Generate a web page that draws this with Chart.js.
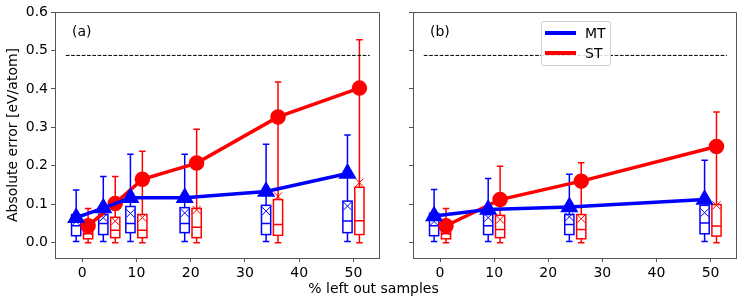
<!DOCTYPE html>
<html><head><meta charset="utf-8">
<script src="https://cdn.jsdelivr.net/npm/chart.js@4.4.0/dist/chart.umd.min.js"></script>
<style>
html,body{margin:0;padding:0;background:#fff;}
#wrap{position:relative;width:747px;height:299px;overflow:hidden;font-family:"DejaVu Sans",sans-serif;}
#ca{position:absolute;left:0;top:0;}
#cb{position:absolute;left:390px;top:0;}
#xt{position:absolute;left:0;width:747px;top:280px;text-align:center;font-size:14px;color:#000;}
#leg{position:absolute;left:541px;top:21px;width:68px;height:43px;border:1px solid #d0d0d0;border-radius:3px;background:rgba(255,255,255,0.85);}
.li{position:absolute;left:3px;width:31px;height:3.5px;}
.lt{position:absolute;left:43px;font-size:14px;line-height:16px;color:#000;}
</style></head>
<body>
<div id="wrap">
<canvas id="ca" width="390" height="299"></canvas>
<canvas id="cb" width="357" height="299"></canvas>
<div id="xt">% left out samples</div>
<div id="leg">
  <div class="li" style="top:9px;background:#0000ff"></div><div class="lt" style="top:3px">MT</div>
  <div class="li" style="top:29px;background:#ff0000"></div><div class="lt" style="top:23px">ST</div>
</div>
</div>
<script>
// ---------- data ----------
const xTicks = [0, 10, 20, 30, 40, 50];
const yTicks = [0, 0.1, 0.2, 0.3, 0.4, 0.5, 0.6];
const refY = 0.487;
const refX = [-3, 53];

// panel (a)
const aMTx = [-1.1, 3.9, 8.9, 18.9, 33.9, 48.9];
const aSTx = [1.1, 6.1, 11.1, 21.1, 36.1, 51.1];
const aMT = [0.065, 0.090, 0.117, 0.117, 0.133, 0.180];
const aST = [0.044, 0.102, 0.165, 0.207, 0.327, 0.402];
const aMTlow  = [0.003, 0.003, 0.003, 0.003, 0.003, 0.003];
const aMTq1   = [0.018, 0.021, 0.026, 0.026, 0.021, 0.026];
const aMTmed  = [0.044, 0.050, 0.050, 0.050, 0.050, 0.056];
const aMTq3   = [0.073, 0.073, 0.094, 0.091, 0.097, 0.108];
const aMThigh = [0.137, 0.172, 0.230, 0.230, 0.256, 0.280];
const aMTmean = [0.055, 0.065, 0.076, 0.077, 0.082, 0.095];
const aSTlow  = [0.000, 0.000, 0.000, 0.000, 0.000, 0.000];
const aSTq1   = [0.010, 0.013, 0.013, 0.013, 0.019, 0.021];
const aSTmed  = [0.023, 0.032, 0.032, 0.040, 0.047, 0.057];
const aSTq3   = [0.034, 0.066, 0.073, 0.089, 0.112, 0.144];
const aSThigh = [0.089, 0.172, 0.238, 0.295, 0.418, 0.528];
const aSTmean = [0.030, 0.056, 0.065, 0.085, 0.120, 0.156];

// panel (b)
const bMTx = [-1.1, 8.9, 23.9, 48.9];
const bSTx = [1.1, 11.1, 26.1, 51.1];
const bMT = [0.069, 0.086, 0.093, 0.112];
const bST = [0.044, 0.112, 0.160, 0.250];
const bMTlow  = [0.003, 0.003, 0.003, 0.003];
const bMTq1   = [0.018, 0.021, 0.021, 0.023];
const bMTmed  = [0.044, 0.044, 0.047, 0.051];
const bMTq3   = [0.076, 0.073, 0.073, 0.097];
const bMThigh = [0.138, 0.167, 0.178, 0.214];
const bMTmean = [0.055, 0.065, 0.067, 0.078];
const bSTlow  = [0.000, 0.000, 0.000, 0.000];
const bSTq1   = [0.010, 0.013, 0.010, 0.017];
const bSTmed  = [0.023, 0.034, 0.034, 0.043];
const bSTq3   = [0.034, 0.071, 0.073, 0.099];
const bSThigh = [0.089, 0.199, 0.208, 0.340];
const bSTmean = [0.030, 0.060, 0.062, 0.097];

// ---------- helpers ----------
const BLUE = '#0000ff', RED = '#ff0000', AX = '#555555';
const FONT = '"DejaVu Sans", sans-serif';
Chart.defaults.font.family = FONT;
Chart.defaults.color = '#000';

function pts(xs, ys) { return xs.map((x, i) => ({x: x, y: ys[i]})); }
function boxes(xs, low, q1, med, q3, high, mean, color) {
  return xs.map((x, i) => ({pos: x, low: low[i], q1: q1[i], med: med[i], q3: q3[i], high: high[i], mean: mean[i], color: color}));
}

const boxPlugin = {
  id: 'boxes',
  beforeDatasetsDraw(chart, args, opts) {
    const ctx = chart.ctx, xs = chart.scales.x, ys = chart.scales.y;
    ctx.save();
    ctx.beginPath();
    ctx.rect(chart.chartArea.left, chart.chartArea.top, chart.chartArea.right - chart.chartArea.left, chart.chartArea.bottom - chart.chartArea.top);
    ctx.clip();
    (opts.sets || []).forEach(b => {
      const cx = xs.getPixelForValue(b.pos);
      const hw = xs.getPixelForValue(b.pos + 0.85) - cx;
      const cw = xs.getPixelForValue(b.pos + 0.6) - cx;
      const mw = xs.getPixelForValue(b.pos + 0.75) - cx;
      const yl = ys.getPixelForValue(b.low), y1 = ys.getPixelForValue(b.q1), ym = ys.getPixelForValue(b.med);
      const y3 = ys.getPixelForValue(b.q3), yh = ys.getPixelForValue(b.high), ymean = ys.getPixelForValue(b.mean);
      ctx.strokeStyle = b.color; ctx.lineWidth = 1.5;
      ctx.beginPath();
      ctx.moveTo(cx, y1); ctx.lineTo(cx, yl);
      ctx.moveTo(cx, y3); ctx.lineTo(cx, yh);
      ctx.moveTo(cx - cw, yl); ctx.lineTo(cx + cw, yl);
      ctx.moveTo(cx - cw, yh); ctx.lineTo(cx + cw, yh);
      ctx.moveTo(cx - hw, ym); ctx.lineTo(cx + hw, ym);
      ctx.stroke();
      ctx.strokeRect(cx - hw, y3, 2 * hw, y1 - y3);
      ctx.lineWidth = 1;
      ctx.beginPath();
      ctx.moveTo(cx - mw, ymean - mw); ctx.lineTo(cx + mw, ymean + mw);
      ctx.moveTo(cx - mw, ymean + mw); ctx.lineTo(cx + mw, ymean - mw);
      ctx.stroke();
    });
    ctx.restore();
  }
};

const framePlugin = {
  id: 'frame',
  afterDraw(chart, args, opts) {
    const ctx = chart.ctx, a = chart.chartArea;
    ctx.save();
    ctx.strokeStyle = AX; ctx.lineWidth = 1;
    ctx.beginPath();
    ctx.moveTo(Math.round(a.left) + 0.5, Math.round(a.top) + 0.5);
    ctx.lineTo(Math.round(a.right) - 0.5, Math.round(a.top) + 0.5);
    ctx.lineTo(Math.round(a.right) - 0.5, Math.round(a.bottom));
    ctx.stroke();
    ctx.fillStyle = '#000';
    ctx.font = '14px ' + FONT;
    ctx.textBaseline = 'middle'; ctx.textAlign = 'left';
    ctx.fillText(opts.label, a.left + 17, a.top + 20);
    ctx.restore();
  }
};

function makeChart(id, label, mtx, mt, stx, st, sets, yw, showY) {
  return new Chart(document.getElementById(id), {
    type: 'line',
    data: {
      datasets: [
        {label: 'ref', data: pts(refX, [refY, refY]), borderColor: '#000', borderWidth: 1, borderDash: [3.7, 1.6], pointRadius: 0, fill: false},
        {label: 'MT', data: pts(mtx, mt), borderColor: BLUE, backgroundColor: BLUE, borderWidth: 3.5, pointStyle: 'triangle', pointRadius: 7, pointHoverRadius: 7, fill: false},
        {label: 'ST', data: pts(stx, st), borderColor: RED, backgroundColor: RED, borderWidth: 3.5, pointStyle: 'circle', pointRadius: 6, pointHoverRadius: 6, fill: false}
      ]
    },
    options: {
      responsive: false, animation: false,
      layout: {padding: {top: 12, right: 10, left: 0, bottom: 0}},
      plugins: {legend: {display: false}, tooltip: {enabled: false}, boxes: {sets: sets}, frame: {label: label}},
      scales: {
        x: {
          type: 'linear', min: -5, max: 54.8,
          afterBuildTicks: s => { s.ticks = xTicks.map(v => ({value: v})); },
          afterFit: s => { s.height = 41; },
          ticks: {font: {size: 14}, color: '#000', padding: 3, maxRotation: 0, autoSkip: false},
          grid: {drawOnChartArea: false, color: AX, tickLength: 4},
          border: {color: AX}
        },
        y: {
          type: 'linear', min: -0.04, max: 0.6,
          afterBuildTicks: s => { s.ticks = yTicks.map(v => ({value: v})); },
          afterFit: s => { s.width = yw; },
          ticks: {font: {size: 14}, color: '#000', padding: 3, callback: v => showY ? v.toFixed(1) : ''},
          title: {display: showY, text: 'Absolute error [eV/atom]', font: {size: 14}, color: '#000', padding: {top: 5, bottom: 0}},
          grid: {drawOnChartArea: false, color: AX, tickLength: 4},
          border: {color: AX}
        }
      }
    },
    plugins: [boxPlugin, framePlugin]
  });
}

const setsA = boxes(aMTx, aMTlow, aMTq1, aMTmed, aMTq3, aMThigh, aMTmean, BLUE)
  .concat(boxes(aSTx, aSTlow, aSTq1, aSTmed, aSTq3, aSThigh, aSTmean, RED));
const setsB = boxes(bMTx, bMTlow, bMTq1, bMTmed, bMTq3, bMThigh, bMTmean, BLUE)
  .concat(boxes(bSTx, bSTlow, bSTq1, bSTmed, bSTq3, bSThigh, bSTmean, RED));

makeChart('ca', '(a)', aMTx, aMT, aSTx, aST, setsA, 55, true);
makeChart('cb', '(b)', bMTx, bMT, bSTx, bST, setsB, 23, false);
</script>
</body></html>
